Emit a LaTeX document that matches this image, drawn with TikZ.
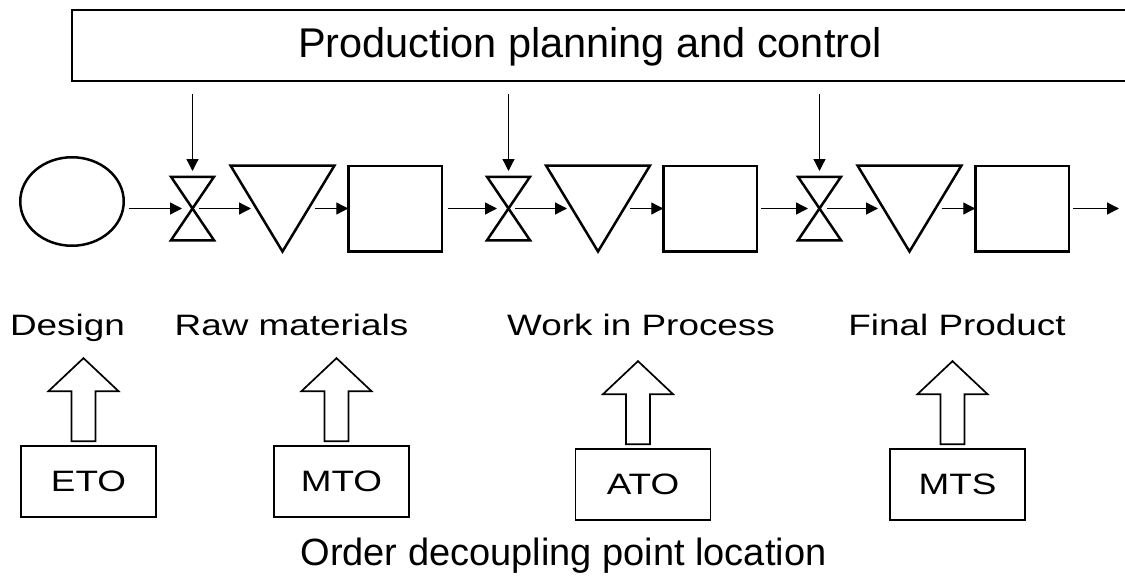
\documentclass[tikz,border=0pt]{standalone}
\usepackage{fontspec}
\setmainfont{Liberation Sans}
\usetikzlibrary{arrows.meta,shapes.geometric,calc}
\begin{document}
\begin{tikzpicture}[x=1pt,y=-1pt,
  shp/.style={line width=2.5pt, line join=miter},
  flow/.style={line width=1.3pt,-{Triangle[length=12pt,width=12pt]}},
  ctrl/.style={line width=1.3pt,-{Triangle[length=12pt,width=12pt]}},
  ghost/.style={inner sep=0pt, outer sep=0pt},
  valve/.style={ghost, minimum width=43pt, minimum height=63.5pt},
  tri/.style={ghost, minimum width=104pt, minimum height=86pt},
  sq/.style={draw, shp, inner sep=0pt, outer sep=0pt, minimum width=93.5pt, minimum height=85.5pt},
  mode/.style={draw, line width=1.7pt, minimum width=135pt, minimum height=71pt, inner sep=0pt, font=\fontsize{29.5}{32}\selectfont},
  lab/.style={anchor=base, inner sep=0pt, font=\fontsize{29.5}{32}\selectfont},
  barrow/.style={line width=1.7pt, line join=miter},
  blockup/.pic={\draw[barrow] (-12,0) -- (-12,-50) -- (-35,-50) -- (0,-83) -- (35,-50) -- (12,-50) -- (12,0) -- cycle;},
]
\useasboundingbox (0,0) rectangle (1125,586);
\clip (0,0) rectangle (1125,586);

% planning box
\node[ghost, draw, line width=2pt, minimum width=1070pt, minimum height=71pt, anchor=north west] (ppc) at (72,10) {};
\node[anchor=base, inner sep=0pt, font=\fontsize{41.5}{48}\selectfont] (ppct) at (590,58) {Production planning and control};

% main row
\node[draw, shp, ellipse, minimum width=103.5pt, minimum height=88.5pt, inner sep=0pt, outer sep=0pt] (circ) at (72,201.5) {};

\node[valve] (v1) at (192.5,208.5) {};
\node[valve] (v2) at (508.5,208.5) {};
\node[valve] (v3) at (819.5,208.5) {};
\foreach \v in {v1,v2,v3}
  \draw[shp] (\v.north west) -- (\v.north east) -- (\v.south west) -- (\v.south east) -- cycle;

\node[tri] (t1) at (282.5,208.5) {};
\node[tri] (t2) at (598,208.5) {};
\node[tri] (t3) at (909.5,208.5) {};
\foreach \t in {t1,t2,t3}{
  \draw[shp] (\t.north west) -- (\t.north east) -- (\t.south) -- cycle;
  \coordinate (\t l) at ($(\t.north west)!0.5!(\t.south)$);
  \coordinate (\t r) at ($(\t.north east)!0.5!(\t.south)$);
}

\node[sq] (s1) at (395,208.5) {};
\node[sq] (s2) at (710,208.5) {};
\node[sq] (s3) at (1022,208.5) {};
\coordinate (out) at (1119,208.5);

% flow arrows
\draw[flow, shorten <=5pt, shorten >=10.5pt] (circ.east |- v1.center) -- (v1.center);
\draw[flow, shorten <=6.5pt, shorten >=5.5pt] (v1.center) -- (t1l);
\draw[flow, shorten <=6.5pt] (t1r) -- (s1.west);
\draw[flow, shorten <=6pt, shorten >=11.5pt] (s1.east) -- (v2.center);
\draw[flow, shorten <=6.5pt, shorten >=5pt] (v2.center) -- (t2l);
\draw[flow, shorten <=6pt] (t2r) -- (s2.west);
\draw[flow, shorten <=4.5pt, shorten >=11.5pt] (s2.east) -- (v3.center);
\draw[flow, shorten <=7.5pt, shorten >=5.5pt] (v3.center) -- (t3l);
\draw[flow, shorten <=6.5pt] (t3r) -- (s3.west);
\draw[flow, shorten <=4.5pt] (s3.east) -- (out);

% control arrows
\foreach \v in {v1,v2,v3}
  \draw[ctrl, shorten <=13pt, shorten >=5.75pt] (\v.north |- ppc.south) -- (\v.north);

% stock labels
\node[lab] (ldes) at (67.5,335) {\scalebox{1.25}[1]{Design}};
\node[lab] (lraw) at (291.5,335) {\scalebox{1.25}[1]{Raw materials}};
\node[lab] (lwip) at (641,335) {\scalebox{1.25}[1]{Work in Process}};
\node[lab] (lfp) at (957,335) {\scalebox{1.25}[1]{Final Product}};

% decoupling modes
\node[mode] (eto) at (88.5,481.5) {\scalebox{1.25}[1]{ETO}};
\node[mode] (mto) at (341.5,481.5) {\scalebox{1.25}[1]{MTO}};
\node[mode] (ato) at (643,484.5) {\scalebox{1.25}[1]{ATO}};
\node[mode] (mts) at (957.5,484.5) {\scalebox{1.25}[1]{MTS}};
\foreach \m in {eto,mto,ato,mts}
  \pic at ([xshift=-5pt,yshift=4pt]\m.north) {blockup};

\node[anchor=base, inner sep=0pt, font=\fontsize{38}{44}\selectfont] (odp) at (563.5,565) {Order decoupling point location};
\end{tikzpicture}
\end{document}
